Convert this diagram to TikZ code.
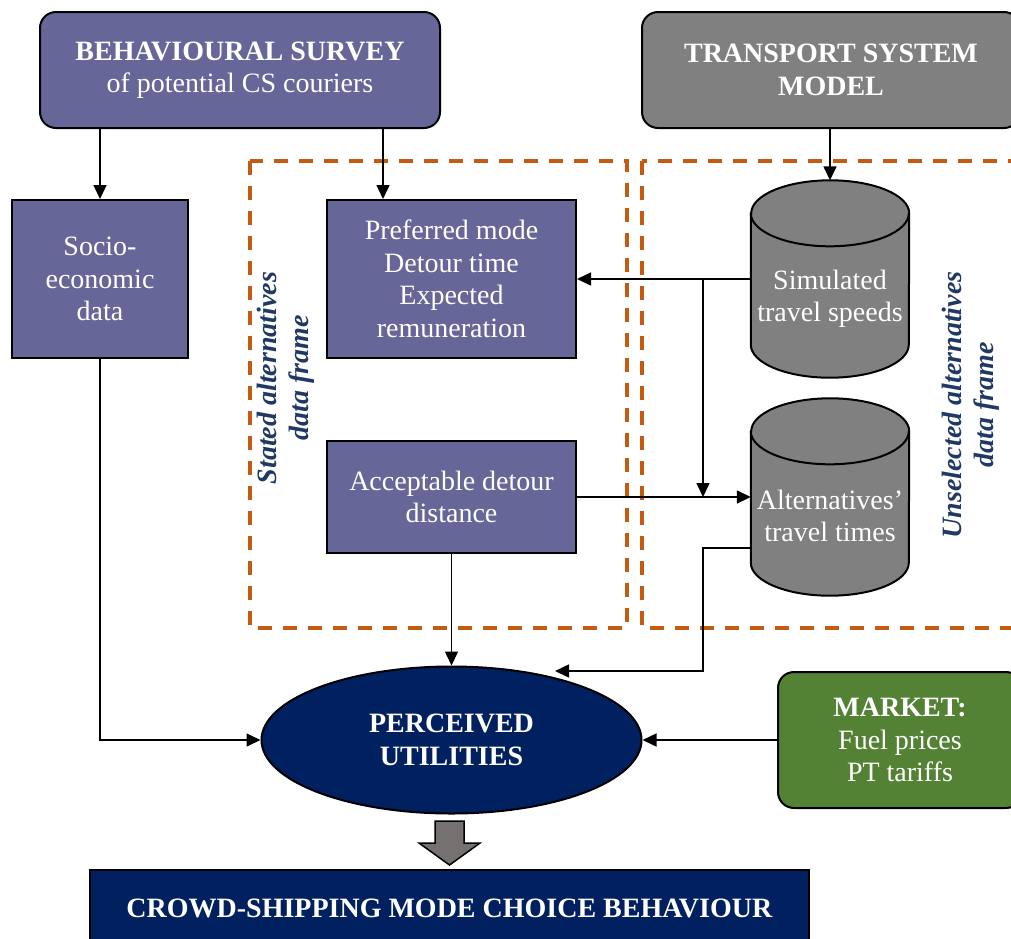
\documentclass[tikz,border=0pt]{standalone}
\usepackage{fontspec}
\setmainfont{Liberation Serif}
\usepackage{xcolor}
\usetikzlibrary{calc, shapes.geometric, arrows.meta}
\definecolor{survblue}{RGB}{102,102,153}
\definecolor{navy}{RGB}{0,32,96}
\definecolor{mktgreen}{RGB}{84,130,53}
\definecolor{framered}{RGB}{197,90,17}
\definecolor{labelblue}{RGB}{31,56,100}
\definecolor{arrowgray}{RGB}{118,113,113}

% drum outline round a (hidden) rectangle node
\newcommand\drawstore[1]{%
  \draw[storeline] ($(#1.north west)+(0,33)$) -- ($(#1.south west)+(0,-33)$)
    arc[start angle=180, end angle=0, x radius=79, y radius=33] -- ($(#1.north east)+(0,33)$)
    arc[start angle=0, end angle=-180, x radius=79, y radius=33] -- cycle;%
  \draw[storeline, fill=none] ($(#1.north west)+(0,33)$)
    arc[start angle=180, end angle=0, x radius=79, y radius=33];}

\begin{document}
\begin{tikzpicture}[x=1pt, y=-1pt,
    every node/.style={font=\fontsize{28}{32.5}\selectfont, text=white, align=center, inner sep=0pt},
    box/.style={draw=black, line width=2pt, fill=survblue},
    roundbox/.style={box, rounded corners=16pt},
    store/.style={minimum width=158pt, minimum height=197pt},
    storeline/.style={draw=black, line width=2pt, fill=gray},
    frame/.style={draw=framered, line width=3.3pt, dash pattern=on 14pt off 11pt},
    flow/.style={-{Triangle[length=14pt, width=13pt]}, line width=1.5pt},
    framelabel/.style={rotate=90, text=labelblue, font=\fontsize{28}{32}\selectfont\bfseries\itshape}]
  \useasboundingbox (0,0) rectangle (1011,938);%

  \def\splitx{703}%

  % data frames
  \draw[frame] (250,161) rectangle (627,628);%
  \draw[frame] (642,161) rectangle (1040,628);%
  \node[framelabel] (statedlbl) at (286,378) {Stated alternatives\\data frame};%
  \node[framelabel] (unsellbl) at (971,405) {Unselected alternatives\\data frame};%

  % sources
  \node[roundbox, minimum width=400pt, minimum height=116pt] (survey) at (240,70)
    {\textbf{BEHAVIOURAL SURVEY}\\of potential CS couriers};%
  \node[roundbox, fill=gray, minimum width=378pt, minimum height=116pt] (tsm) at (831,70)
    {\textbf{TRANSPORT SYSTEM}\\\textbf{MODEL}};%

  \node[box, minimum width=176pt, minimum height=158pt] (socio) at (100,279) {Socio-\\economic\\data};%
  \node[box, minimum width=249pt, minimum height=158pt] (pref) at (451.5,279)
    {Preferred mode\\Detour time\\Expected\\remuneration};%
  \node[box, minimum width=249pt, minimum height=112pt] (acc) at (451.5,497) {Acceptable detour\\distance};%

  % drums
  \node[store] (sim) at (830,279) {};%
  \node[store] (alt) at (830,497) {};%
  \drawstore{sim}\drawstore{alt}%
  \node (simtext) at ($(sim)+(0,20)$) {Simulated\\travel speeds};%
  \node (alttext) at ($(alt)+(0,19)$) {Alternatives'\\travel times};%

  \node[ellipse, draw=black, line width=2pt, fill=navy, minimum width=380pt, minimum height=147pt] (pu)
    at (451.5,740) {\textbf{PERCEIVED}\\\textbf{UTILITIES}};%
  \node[roundbox, fill=mktgreen, minimum width=244pt, minimum height=136pt] (mkt) at (900,740)
    {\textbf{MARKET:}\\Fuel prices\\PT tariffs};%
  \node[box, fill=navy, minimum width=719pt, minimum height=76pt] (csm) at (449.5,908)
    {\textbf{CROWD-SHIPPING MODE CHOICE BEHAVIOUR}};%

  % connectors
  \coordinate (prefin) at ([xshift=-68.5pt]pref.north);%
  \coordinate (altout) at ($(alt.west)+(0,51)$);%
  \coordinate (split) at (\splitx,279);%
  \coordinate (puin) at (555,671);%

  \draw[flow] (survey.south -| socio) -- (socio);%
  \draw[flow] (survey.south -| prefin) -- (prefin);%
  \draw[flow] (tsm.south -| sim) -- (sim);%
  \draw[flow] (sim) -- (pref);%
  \draw[flow] (split) -- (split |- alt);%
  \draw[flow] (acc) -- (alt);%
  \draw[flow] (acc) -- (pu);%
  \draw[flow] (altout) -| (split |- puin) -- (puin);%
  \draw[flow] (socio) |- (pu);%
  \draw[flow] (mkt) -- (pu);%

  % result arrow
  \draw[fill=arrowgray, line width=1.5pt] (435,821) -- (464,821) -- (464,843) -- (480,843)
    -- (449.5,865) -- (419,843) -- (435,843) -- cycle;%
\end{tikzpicture}
\end{document}
